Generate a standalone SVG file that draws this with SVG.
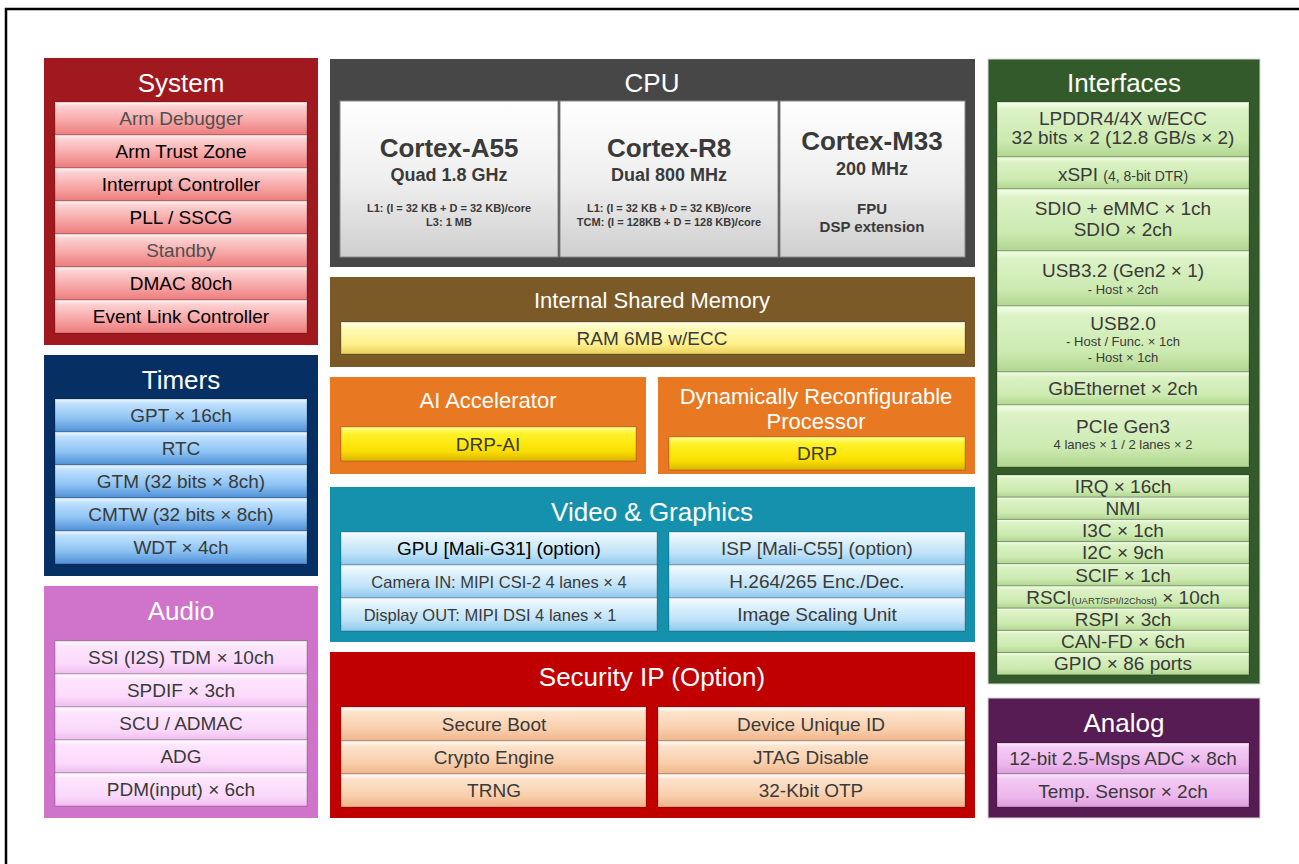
<svg xmlns="http://www.w3.org/2000/svg" width="1299" height="864" viewBox="0 0 1299 864">
<style>
text{font-family:"Liberation Sans",Arial,Helvetica,sans-serif;text-anchor:middle}
.h{fill:#fff;font-size:26px}
.h2{fill:#fff;font-size:22px}
.i{font-size:19px;fill:#3a3a3a}
.k{fill:#000}
.s{font-size:13px;fill:#3a3a3a}
.v{font-size:16.5px;fill:#3a3a3a}
.b{font-weight:bold;fill:#3a3a3a}
.it{stroke:#000;stroke-opacity:0.22;stroke-width:1}
.cpu{stroke:#888;stroke-width:1}
</style>
<defs>
<linearGradient id="gSys" x1="0" y1="0" x2="0" y2="1"><stop offset="0" stop-color="#fff4f4"/><stop offset="0.14" stop-color="#fcd0d0"/><stop offset="0.55" stop-color="#f8a9a9"/><stop offset="1" stop-color="#ec7c7c"/></linearGradient>
<linearGradient id="gTim" x1="0" y1="0" x2="0" y2="1"><stop offset="0" stop-color="#eef8ff"/><stop offset="0.15" stop-color="#bfe0ff"/><stop offset="0.6" stop-color="#8dc3f3"/><stop offset="1" stop-color="#4f8fd6"/></linearGradient>
<linearGradient id="gAud" x1="0" y1="0" x2="0" y2="1"><stop offset="0" stop-color="#ffffff"/><stop offset="0.15" stop-color="#fde6fd"/><stop offset="0.7" stop-color="#fbd9fb"/><stop offset="1" stop-color="#efbdef"/></linearGradient>
<linearGradient id="gCpu" x1="0" y1="0" x2="0" y2="1"><stop offset="0" stop-color="#ffffff"/><stop offset="0.5" stop-color="#efefef"/><stop offset="1" stop-color="#cfcfcf"/></linearGradient>
<linearGradient id="gRam" x1="0" y1="0" x2="0" y2="1"><stop offset="0" stop-color="#ffffee"/><stop offset="0.2" stop-color="#fffab8"/><stop offset="0.7" stop-color="#fff08a"/><stop offset="1" stop-color="#e9d05c"/></linearGradient>
<linearGradient id="gDrp" x1="0" y1="0" x2="0" y2="1"><stop offset="0" stop-color="#ffff90"/><stop offset="0.2" stop-color="#fff22a"/><stop offset="0.7" stop-color="#fbe000"/><stop offset="1" stop-color="#dcb400"/></linearGradient>
<linearGradient id="gVid" x1="0" y1="0" x2="0" y2="1"><stop offset="0" stop-color="#f6fcff"/><stop offset="0.2" stop-color="#e2f3fd"/><stop offset="0.65" stop-color="#bfe2f8"/><stop offset="1" stop-color="#8ec8ee"/></linearGradient>
<linearGradient id="gSec" x1="0" y1="0" x2="0" y2="1"><stop offset="0" stop-color="#ffffff"/><stop offset="0.15" stop-color="#fde3cc"/><stop offset="0.65" stop-color="#f9cfac"/><stop offset="1" stop-color="#efb48a"/></linearGradient>
<linearGradient id="gInt" x1="0" y1="0" x2="0" y2="1"><stop offset="0" stop-color="#f4ffe8"/><stop offset="0.15" stop-color="#dcf2c6"/><stop offset="0.7" stop-color="#cceab0"/><stop offset="1" stop-color="#b0d690"/></linearGradient>
<linearGradient id="gAna" x1="0" y1="0" x2="0" y2="1"><stop offset="0" stop-color="#fdeefd"/><stop offset="0.15" stop-color="#f4caf4"/><stop offset="0.7" stop-color="#ebb5eb"/><stop offset="1" stop-color="#dc9cdc"/></linearGradient>
</defs>

<rect width="1299" height="864" fill="#fff"/>
<path d="M6,864 V9 H1299" fill="none" stroke="#000" stroke-width="2.5"/>

<g id="system">
<rect x="44" y="58" width="274" height="287" fill="#a0191f"/>
<text class="h" x="181" y="92">System</text>
<g fill="url(#gSys)" class="it">
<rect x="55" y="102" width="252" height="33"/><rect x="55" y="135" width="252" height="33"/><rect x="55" y="168" width="252" height="33"/><rect x="55" y="201" width="252" height="33"/><rect x="55" y="234" width="252" height="33"/><rect x="55" y="267" width="252" height="33"/><rect x="55" y="300" width="252" height="33"/>
</g>
<text class="i" x="181" y="125" style="fill:#505050">Arm Debugger</text>
<text class="i k" x="181" y="158">Arm Trust Zone</text>
<text class="i k" x="181" y="191">Interrupt Controller</text>
<text class="i k" x="181" y="224">PLL / SSCG</text>
<text class="i" x="181" y="257" style="fill:#505050">Standby</text>
<text class="i k" x="181" y="290">DMAC 80ch</text>
<text class="i k" x="181" y="323">Event Link Controller</text>
</g>

<g id="timers">
<rect x="44" y="355" width="274" height="221" fill="#062f63"/>
<text class="h" x="181" y="389">Timers</text>
<g fill="url(#gTim)" class="it">
<rect x="55" y="399" width="252" height="33"/><rect x="55" y="432" width="252" height="33"/><rect x="55" y="465" width="252" height="33"/><rect x="55" y="498" width="252" height="33"/><rect x="55" y="531" width="252" height="33"/>
</g>
<text class="i" x="181" y="422">GPT × 16ch</text>
<text class="i" x="181" y="455">RTC</text>
<text class="i" x="181" y="488">GTM (32 bits × 8ch)</text>
<text class="i" x="181" y="521">CMTW (32 bits × 8ch)</text>
<text class="i" x="181" y="554">WDT × 4ch</text>
</g>

<g id="audio">
<rect x="44" y="586" width="274" height="232" fill="#d073ca"/>
<text class="h" x="181" y="620">Audio</text>
<g fill="url(#gAud)" class="it">
<rect x="55" y="641" width="252" height="33"/><rect x="55" y="674" width="252" height="33"/><rect x="55" y="707" width="252" height="33"/><rect x="55" y="740" width="252" height="33"/><rect x="55" y="773" width="252" height="33"/>
</g>
<text class="i" x="181" y="664">SSI (I2S) TDM × 10ch</text>
<text class="i" x="181" y="697">SPDIF × 3ch</text>
<text class="i" x="181" y="730">SCU / ADMAC</text>
<text class="i" x="181" y="763">ADG</text>
<text class="i" x="181" y="796">PDM(input) × 6ch</text>
</g>

<g id="cpu">
<rect x="330" y="59" width="645" height="208" fill="#474747"/>
<text class="h" x="652" y="92">CPU</text>
<g fill="url(#gCpu)" class="cpu">
<rect x="340" y="101" width="218" height="156"/><rect x="560" y="101" width="218" height="156"/><rect x="780" y="101" width="185" height="156"/>
</g>
<text class="b" x="449" y="157" font-size="26">Cortex-A55</text>
<text class="b" x="449" y="181" font-size="18">Quad 1.8 GHz</text>
<text class="b" x="449" y="212" font-size="11">L1: (I = 32 KB + D = 32 KB)/core</text>
<text class="b" x="449" y="226" font-size="11">L3: 1 MB</text>
<text class="b" x="669" y="157" font-size="26">Cortex-R8</text>
<text class="b" x="669" y="181" font-size="18">Dual 800 MHz</text>
<text class="b" x="669" y="212" font-size="11">L1: (I = 32 KB + D = 32 KB)/core</text>
<text class="b" x="669" y="226" font-size="11">TCM: (I = 128KB + D = 128 KB)/core</text>
<text class="b" x="872" y="150" font-size="26">Cortex-M33</text>
<text class="b" x="872" y="175" font-size="18">200 MHz</text>
<text class="b" x="872" y="214" font-size="15">FPU</text>
<text class="b" x="872" y="232" font-size="15">DSP extension</text>
</g>

<g id="shared-memory">
<rect x="330" y="277" width="645" height="90" fill="#7b5a27"/>
<text class="h2" x="652" y="308">Internal Shared Memory</text>
<rect x="341" y="322" width="624" height="32" fill="url(#gRam)" class="it"/>
<text class="i" x="652" y="345">RAM 6MB w/ECC</text>
</g>

<g id="ai-accelerator">
<rect x="330" y="377" width="316" height="97" fill="#e97822"/>
<text class="h2" x="488" y="408">AI Accelerator</text>
<rect x="341" y="427" width="295" height="34" fill="url(#gDrp)" class="it"/>
<text class="i" x="488" y="451">DRP-AI</text>
</g>

<g id="drp">
<rect x="658" y="377" width="317" height="97" fill="#e97822"/>
<text class="h2" x="816" y="404" font-size="20.5">Dynamically Reconfigurable</text>
<text class="h2" x="816" y="429" font-size="20.5">Processor</text>
<rect x="669" y="437" width="296" height="33" fill="url(#gDrp)" class="it"/>
<text class="i" x="817" y="460">DRP</text>
</g>

<g id="video-graphics">
<rect x="330" y="487" width="645" height="155" fill="#1591ae"/>
<text class="h" x="652" y="521">Video &amp; Graphics</text>
<g fill="url(#gVid)" class="it">
<rect x="341" y="532" width="316" height="33"/><rect x="341" y="565" width="316" height="33"/><rect x="341" y="598" width="316" height="33"/>
<rect x="669" y="532" width="296" height="33"/><rect x="669" y="565" width="296" height="33"/><rect x="669" y="598" width="296" height="33"/>
</g>
<text class="i k" x="499" y="555" font-size="18">GPU [Mali-G31] (option)</text>
<text class="v" x="499" y="588">Camera IN: MIPI CSI-2 4 lanes × 4</text>
<text class="v" x="490" y="621">Display OUT: MIPI DSI 4 lanes × 1</text>
<text class="i" x="817" y="555" font-size="18">ISP [Mali-C55] (option)</text>
<text class="i" x="817" y="588" font-size="18">H.264/265 Enc./Dec.</text>
<text class="i" x="817" y="621" font-size="18">Image Scaling Unit</text>
</g>

<g id="security">
<rect x="330" y="652" width="645" height="166" fill="#c00000"/>
<text class="h" x="652" y="686" font-size="25">Security IP (Option)</text>
<g fill="url(#gSec)" class="it">
<rect x="341" y="707" width="305" height="34"/><rect x="341" y="741" width="305" height="33"/><rect x="341" y="774" width="305" height="33"/>
<rect x="658" y="707" width="307" height="34"/><rect x="658" y="741" width="307" height="33"/><rect x="658" y="774" width="307" height="33"/>
</g>
<text class="i" x="494" y="731">Secure Boot</text>
<text class="i" x="494" y="764">Crypto Engine</text>
<text class="i" x="494" y="797">TRNG</text>
<text class="i" x="811" y="731">Device Unique ID</text>
<text class="i" x="811" y="764">JTAG Disable</text>
<text class="i" x="811" y="797">32-Kbit OTP</text>
</g>

<g id="interfaces">
<rect x="988" y="59" width="272" height="625" fill="#335a2a" stroke="#d8d8d8" stroke-width="1"/>
<text class="h" x="1124" y="92">Interfaces</text>
<g fill="url(#gInt)" class="it">
<rect x="997" y="102" width="252" height="55"/><rect x="997" y="157" width="252" height="32"/><rect x="997" y="189" width="252" height="62"/><rect x="997" y="251" width="252" height="55"/><rect x="997" y="306" width="252" height="66"/><rect x="997" y="372" width="252" height="33"/><rect x="997" y="405" width="252" height="62"/>
<rect x="997" y="475" width="252" height="22.2"/><rect x="997" y="497.2" width="252" height="22.2"/><rect x="997" y="519.4" width="252" height="22.2"/><rect x="997" y="541.6" width="252" height="22.2"/><rect x="997" y="563.8" width="252" height="22.2"/><rect x="997" y="586" width="252" height="22.2"/><rect x="997" y="608.2" width="252" height="22.2"/><rect x="997" y="630.4" width="252" height="22.2"/><rect x="997" y="652.6" width="252" height="22.2"/>
</g>
<text class="i" x="1123" y="125" font-size="16.5">LPDDR4/4X w/ECC</text>
<text class="i" x="1123" y="144" font-size="16.5">32 bits × 2 (12.8 GB/s × 2)</text>
<text class="i" x="1123" y="181" font-size="18">xSPI <tspan font-size="14">(4, 8-bit DTR)</tspan></text>
<text class="i" x="1123" y="215" font-size="17.5">SDIO + eMMC × 1ch</text>
<text class="i" x="1123" y="236" font-size="17.5">SDIO × 2ch</text>
<text class="i" x="1123" y="277" font-size="18">USB3.2 (Gen2 × 1)</text>
<text class="s" x="1123" y="294" font-size="13">- Host × 2ch</text>
<text class="i" x="1123" y="330" font-size="18">USB2.0</text>
<text class="s" x="1123" y="346" font-size="13">- Host / Func. × 1ch</text>
<text class="s" x="1123" y="362" font-size="13">- Host × 1ch</text>
<text class="i" x="1123" y="395" font-size="18">GbEthernet × 2ch</text>
<text class="i" x="1123" y="433" font-size="18">PCIe Gen3</text>
<text class="s" x="1123" y="449">4 lanes × 1 / 2 lanes × 2</text>
<text class="i" x="1123" y="493">IRQ × 16ch</text>
<text class="i" x="1123" y="515">NMI</text>
<text class="i" x="1123" y="537">I3C × 1ch</text>
<text class="i" x="1123" y="559">I2C × 9ch</text>
<text class="i" x="1123" y="582">SCIF × 1ch</text>
<text class="i" x="1123" y="604">RSCI<tspan font-size="9.5">(UART/SPI/I2Chost)</tspan> × 10ch</text>
<text class="i" x="1123" y="626">RSPI × 3ch</text>
<text class="i" x="1123" y="648">CAN-FD × 6ch</text>
<text class="i" x="1123" y="670">GPIO × 86 ports</text>
</g>

<g id="analog">
<rect x="988" y="698" width="272" height="120" fill="#581c55" stroke="#d8d8d8" stroke-width="1"/>
<text class="h" x="1124" y="732">Analog</text>
<g fill="url(#gAna)" class="it">
<rect x="997" y="743" width="252" height="31"/><rect x="997" y="774" width="252" height="33"/>
</g>
<text class="i" x="1123" y="765" font-size="16.5">12-bit 2.5-Msps ADC × 8ch</text>
<text class="i" x="1123" y="798" font-size="18">Temp. Sensor × 2ch</text>
</g>

<g id="connectors"/>
</svg>
